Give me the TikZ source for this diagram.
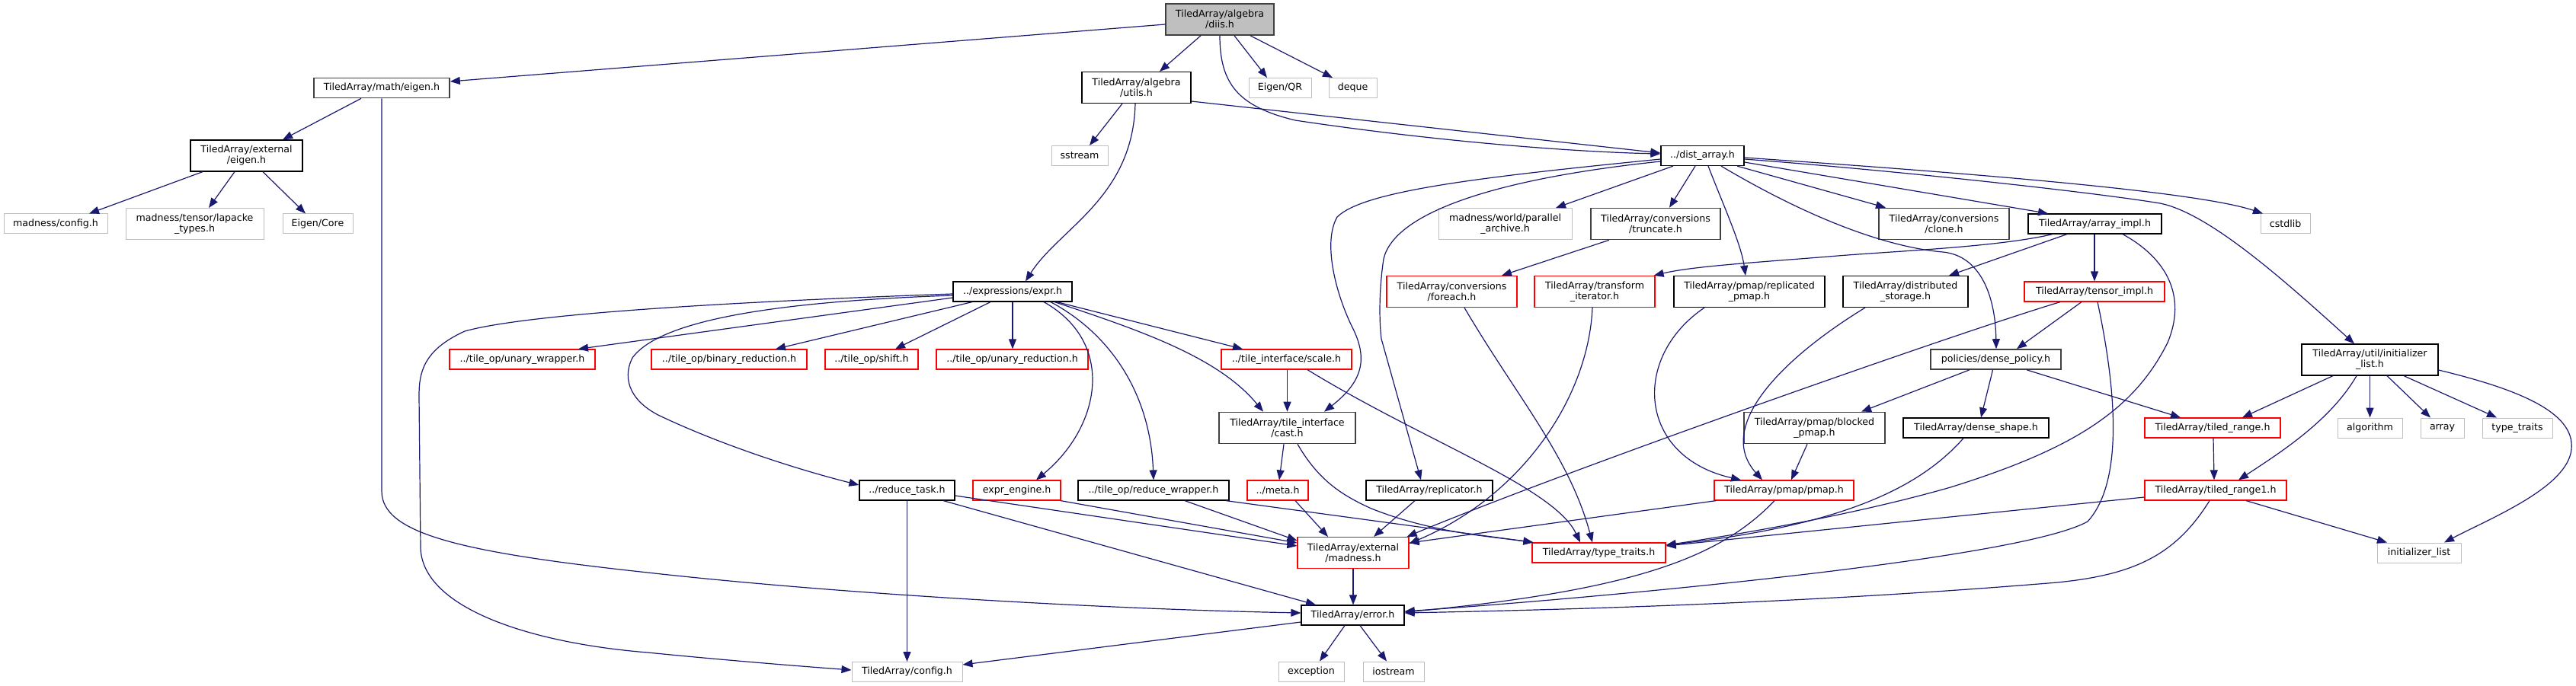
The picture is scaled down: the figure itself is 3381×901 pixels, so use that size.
\documentclass[tikz,border=0pt]{standalone}
\usepackage{fontspec}
\setmainfont{DejaVu Sans}
\usetikzlibrary{arrows.meta}
\definecolor{edgeblue}{HTML}{191970}
\definecolor{nodegray}{HTML}{404040}
\definecolor{extgray}{HTML}{BFBFBF}
\definecolor{truncred}{HTML}{FF0000}
\begin{document}
\begin{tikzpicture}[x=1pt,y=-1pt,
  nd/.style={draw, line width=1.2pt, fill=white, inner sep=0pt, align=center, font=\fontsize{12.6}{14}\selectfont, text=black},
  blk/.style={nd, draw=black},
  dk/.style={nd, draw=nodegray, line width=1.6pt},
  trnc/.style={nd, draw=truncred},
  ext/.style={nd, draw=extgray, line width=1pt},
  one/.style={minimum height=26pt},
  two/.style={minimum height=41pt},
  dep/.style={draw=edgeblue, line width=1.2pt, -{Triangle[length=13pt,width=10pt]}}
]
\useasboundingbox (0,0) rectangle (3381,901);
% nodes
\node[dk, two, minimum width=142pt, fill=extgray] (diis) at (1601,25.5) {TiledArray/algebra\\/diis.h};
\node[dk, one, minimum width=178pt] (mathEigen) at (501,115.5) {TiledArray/math/eigen.h};
\node[blk, two, minimum width=143pt] (utils) at (1491.5,115) {TiledArray/algebra\\/utils.h};
\node[ext, one, minimum width=82pt] (eigenQR) at (1680,115.5) {Eigen/QR};
\node[ext, one, minimum width=63pt] (deque) at (1775.5,115.5) {deque};
\node[blk, two, minimum width=147pt] (extEigen) at (323.5,204.5) {TiledArray/external\\/eigen.h};
\node[ext, one, minimum width=74pt] (sstream) at (1417,204.5) {sstream};
\node[blk, one, minimum width=109pt] (distArray) at (2234.5,204.5) {../dist\_array.h};
\node[ext, one, minimum width=136pt] (madConfig) at (73,294) {madness/config.h};
\node[ext, two, minimum width=181pt] (lapacke) at (255.5,294) {madness/tensor/lapacke\\\_types.h};
\node[ext, one, minimum width=92pt] (eigenCore) at (417,294) {Eigen/Core};
\node[ext, two, minimum width=175pt] (parArchive) at (1975.5,294) {madness/world/parallel\\\_archive.h};
\node[dk, two, minimum width=170pt] (truncate) at (2173,294) {TiledArray/conversions\\/truncate.h};
\node[dk, two, minimum width=171pt] (clone) at (2551.5,294) {TiledArray/conversions\\/clone.h};
\node[blk, one, minimum width=175pt] (arrayImpl) at (2749.5,294) {TiledArray/array\_impl.h};
\node[ext, one, minimum width=65pt] (cstdlib) at (2999.5,294) {cstdlib};
\node[blk, one, minimum width=156pt] (expr) at (1329,383) {../expressions/expr.h};
\node[trnc, two, minimum width=171pt] (foreach) at (1905.5,383) {TiledArray/conversions\\/foreach.h};
\node[trnc, two, minimum width=158pt] (transIter) at (2093,383) {TiledArray/transform\\\_iterator.h};
\node[blk, two, minimum width=198pt] (replPmap) at (2296,383) {TiledArray/pmap/replicated\\\_pmap.h};
\node[blk, two, minimum width=164pt] (distStorage) at (2501,383) {TiledArray/distributed\\\_storage.h};
\node[trnc, one, minimum width=184pt] (tensorImpl) at (2749,383) {TiledArray/tensor\_impl.h};
\node[trnc, one, minimum width=191pt] (unaryWrapper) at (685.5,472) {../tile\_op/unary\_wrapper.h};
\node[trnc, one, minimum width=204pt] (binRed) at (957,472) {../tile\_op/binary\_reduction.h};
\node[trnc, one, minimum width=122pt] (shift) at (1144,472) {../tile\_op/shift.h};
\node[trnc, one, minimum width=199pt] (unRed) at (1328.5,472) {../tile\_op/unary\_reduction.h};
\node[trnc, one, minimum width=171pt] (scale) at (1688.5,472) {../tile\_interface/scale.h};
\node[dk, one, minimum width=171pt] (densePolicy) at (2619.5,472) {policies/dense\_policy.h};
\node[blk, two, minimum width=179pt] (utilInit) at (3110.5,472.5) {TiledArray/util/initializer\\\_list.h};
\node[dk, two, minimum width=179pt] (cast) at (1689.5,562) {TiledArray/tile\_interface\\/cast.h};
\node[dk, two, minimum width=185pt] (blockedPmap) at (2381.5,562) {TiledArray/pmap/blocked\\\_pmap.h};
\node[blk, one, minimum width=191pt] (denseShape) at (2593.5,562) {TiledArray/dense\_shape.h};
\node[trnc, one, minimum width=178pt] (tiledRange) at (2904,562) {TiledArray/tiled\_range.h};
\node[ext, one, minimum width=85pt] (algorithm) at (3110.5,562) {algorithm};
\node[ext, one, minimum width=57pt] (array) at (3205.5,562) {array};
\node[ext, one, minimum width=92pt] (typeTraitsStd) at (3304,562) {type\_traits};
\node[blk, one, minimum width=125pt] (reduceTask) at (1190.5,644) {../reduce\_task.h};
\node[trnc, one, minimum width=115pt] (exprEngine) at (1334.5,644) {expr\_engine.h};
\node[blk, one, minimum width=198pt] (reduceWrapper) at (1514,644) {../tile\_op/reduce\_wrapper.h};
\node[trnc, one, minimum width=80pt] (meta) at (1677,644) {../meta.h};
\node[blk, one, minimum width=166pt] (replicator) at (1876,644) {TiledArray/replicator.h};
\node[trnc, one, minimum width=183pt] (pmap) at (2341.5,644) {TiledArray/pmap/pmap.h};
\node[trnc, one, minimum width=186pt] (tiledRange1) at (2908,644) {TiledArray/tiled\_range1.h};
\node[trnc, two, minimum width=146pt] (madness) at (1776,726) {TiledArray/external\\/madness.h};
\node[trnc, one, minimum width=175pt] (typeTraits) at (2098.5,726) {TiledArray/type\_traits.h};
\node[ext, one, minimum width=110pt] (initList) at (3175,726) {initializer\_list};
\node[blk, one, minimum width=135pt] (error) at (1775.5,808) {TiledArray/error.h};
\node[ext, one, minimum width=86pt] (exception) at (1721,882) {exception};
\node[ext, one, minimum width=80pt] (iostream) at (1829,882) {iostream};
\node[ext, one, minimum width=145pt] (config) at (1190.5,882.5) {TiledArray/config.h};
% edges from diis
\draw[dep] ([yshift=-6.5pt]diis.west) -- ([yshift=8.5pt]mathEigen.east);
\draw[dep] ([xshift=-25pt]diis.south) -- ([xshift=30.5pt]utils.north);
\draw[dep] ([xshift=19pt]diis.south) -- ([xshift=-17pt]eigenQR.north);
\draw[dep] ([xshift=40pt]diis.south) -- ([xshift=-26.5pt]deque.north);
\draw[dep] (diis.south) .. controls (1601,110) and (1625,140) .. (1700,158) .. controls (1900,188) and (2080,200) .. ([yshift=2.5pt]distArray.west);
% utils
\draw[dep] ([yshift=-18pt]utils.east) -- ([yshift=3.5pt]distArray.west);
\draw[dep] ([xshift=-18.5pt]utils.south) -- ([xshift=13pt]sstream.north);
\draw[dep] ([xshift=-1.5pt]utils.south) .. controls (1487,260) and (1390,300) .. ([xshift=17pt]expr.north);
% math eigen
\draw[dep] ([xshift=-27pt]mathEigen.south) -- ([xshift=47.5pt]extEigen.north);
\draw[dep] (mathEigen.south) -- (501,645) .. controls (501,700) and (600,725) .. (850,752) .. controls (1100,780) and (1450,800) .. ([yshift=3pt]error.west);
% external eigen
\draw[dep] ([xshift=-57.5pt]extEigen.south) -- ([xshift=44pt]madConfig.north);
\draw[dep] ([xshift=-15.5pt]extEigen.south) -- ([xshift=18.5pt]lapacke.north);
\draw[dep] ([xshift=21.5pt]extEigen.south) -- ([xshift=-16pt]eigenCore.north);
% dist_array
\draw[dep] ([xshift=-38.5pt]distArray.south) -- ([xshift=66.5pt]parArchive.north);
\draw[dep] ([xshift=-9.5pt]distArray.south) -- ([xshift=18pt]truncate.north);
\draw[dep] ([xshift=7.5pt]distArray.south) .. controls (2262,270) and (2285,320) .. ([xshift=-5pt]replPmap.north);
\draw[dep] ([xshift=45.5pt]distArray.south) -- ([xshift=-76.5pt]clone.north);
\draw[dep] ([yshift=-8.5pt]distArray.east) -- ([xshift=-61.5pt]arrayImpl.north);
\draw[dep] ([yshift=-2.5pt]distArray.east) .. controls (2550,225) and (2880,250) .. ([xshift=-29.5pt]cstdlib.north);
\draw[dep] ([yshift=-4.5pt]distArray.east) .. controls (2500,225) and (2750,253) .. (2835,267) .. controls (2900,280) and (3000,370) .. ([xshift=-20.5pt]utilInit.north);
\draw[dep] ([xshift=24.5pt]distArray.south) .. controls (2380,290) and (2480,325) .. (2550,331) .. controls (2600,336) and (2619,390) .. ([xshift=0.5pt]densePolicy.north);
\draw[dep] ([yshift=-4.5pt]distArray.west) .. controls (1950,232) and (1790,250) .. (1755,285) .. controls (1735,320) and (1755,390) .. (1775,430) .. controls (1795,470) and (1790,500) .. ([xshift=48.5pt]cast.north);
\draw[dep] ([yshift=-7.5pt]distArray.west) .. controls (1960,235) and (1830,280) .. (1816,340) .. controls (1810,380) and (1810,420) .. (1813,445) -- ([xshift=-11pt]replicator.north);
% array_impl
\draw[dep] ([xshift=-55.5pt]arrayImpl.south) .. controls (2620,325) and (2480,330) .. (2400,337) .. controls (2300,345) and (2220,350) .. ([xshift=-2pt]transIter.north east);
\draw[dep] ([xshift=-36.5pt]arrayImpl.south) -- ([xshift=57pt]distStorage.north);
\draw[dep] ([xshift=-0.5pt]arrayImpl.south) -- (tensorImpl.north);
\draw[dep] ([xshift=36.5pt]arrayImpl.south) .. controls (2845,340) and (2870,390) .. (2845,450) .. controls (2800,540) and (2720,590) .. (2560,640) .. controls (2420,680) and (2260,705) .. ([yshift=10pt]typeTraits.east);
% conversions, iterators, storage
\draw[dep] ([xshift=-61pt]truncate.south) -- ([xshift=65.5pt]foreach.north);
\draw[dep] ([xshift=16.5pt]foreach.south) .. controls (1990,520) and (2060,600) .. ([xshift=-8.5pt]typeTraits.north);
\draw[dep] ([xshift=-3pt]transIter.south) .. controls (2085,520) and (2000,650) .. ([yshift=12pt]madness.east);
\draw[dep] ([xshift=-59pt]replPmap.south) .. controls (2140,470) and (2150,600) .. ([xshift=-56.5pt]pmap.north);
\draw[dep] ([xshift=-53pt]distStorage.south) .. controls (2340,470) and (2250,560) .. ([xshift=-28.5pt]pmap.north);
% tensor_impl
\draw[dep] ([xshift=-17pt]tensorImpl.south) -- ([xshift=27.5pt]densePolicy.north);
\draw[dep] ([xshift=-45pt]tensorImpl.south) .. controls (2560,440) and (2050,620) .. ([xshift=-3pt]madness.north east);
\draw[dep] ([xshift=4pt]tensorImpl.south) .. controls (2775,500) and (2790,630) .. (2740,685) .. controls (2650,735) and (2100,785) .. ([yshift=5pt]error.east);
% dense_policy
\draw[dep] ([xshift=-34.5pt]densePolicy.south) -- ([xshift=61.5pt]blockedPmap.north);
\draw[dep] ([xshift=-4pt]densePolicy.south) -- ([xshift=6.5pt]denseShape.north);
\draw[dep] ([xshift=40.5pt]densePolicy.south) -- ([xshift=-42pt]tiledRange.north);
% pmaps
\draw[dep] ([xshift=-9.5pt]blockedPmap.south) -- ([xshift=9.5pt]pmap.north);
\draw[dep] ([xshift=3pt]pmap.south west) -- ([yshift=13pt]madness.east);
\draw[dep] ([xshift=-12.5pt]pmap.south) .. controls (2260,730) and (2150,775) .. ([yshift=4pt]error.east);
% dense_shape, tiled ranges
\draw[dep] ([xshift=-16.5pt]denseShape.south) .. controls (2520,640) and (2420,690) .. ([yshift=10pt]typeTraits.east);
\draw[dep] ([xshift=1pt]tiledRange.south) -- ([xshift=-2pt]tiledRange1.north);
\draw[dep] ([yshift=-9pt]tiledRange1.west) -- ([yshift=9pt]typeTraits.east);
\draw[dep] ([xshift=-8pt]tiledRange1.south) .. controls (2855,730) and (2800,755) .. (2700,765) .. controls (2400,790) and (2100,800) .. ([yshift=3pt]error.east);
\draw[dep] ([xshift=40pt]tiledRange1.south) -- ([xshift=-42pt]initList.north);
% util/initializer_list
\draw[dep] ([xshift=-48.5pt]utilInit.south) -- ([xshift=39pt]tiledRange.north);
\draw[dep] ([xshift=-17.5pt]utilInit.south) .. controls (3060,550) and (3000,590) .. ([xshift=30pt]tiledRange1.north);
\draw[dep] (utilInit.south) -- (algorithm.north);
\draw[dep] ([xshift=22.5pt]utilInit.south) -- ([xshift=-15.5pt]array.north);
\draw[dep] ([xshift=44.5pt]utilInit.south) -- ([xshift=-27pt]typeTraitsStd.north);
\draw[dep] ([yshift=-13.5pt]utilInit.east) .. controls (3300,510) and (3380,540) .. (3375,590) .. controls (3370,640) and (3270,680) .. ([xshift=33pt]initList.north);
% expr
\draw[dep] ([yshift=-8pt]expr.west) -- ([xshift=73.5pt]unaryWrapper.north);
\draw[dep] ([yshift=-5pt]expr.west) .. controls (1050,395) and (870,415) .. (830,470) .. controls (815,500) and (830,530) .. (870,548) .. controls (960,590) and (1060,620) .. ([yshift=7pt]reduceTask.west);
\draw[dep] ([yshift=-3pt]expr.west) .. controls (1000,395) and (700,410) .. (610,435) .. controls (555,460) and (550,490) .. (550,520) -- (552,720) .. controls (555,800) and (700,845) .. (850,857) .. controls (950,867) and (1050,875) .. ([yshift=2.5pt]config.west);
\draw[dep] ([xshift=-53pt]expr.south) -- ([xshift=61pt]binRed.north);
\draw[dep] ([xshift=-29pt]expr.south) -- ([xshift=31pt]shift.north);
\draw[dep] (expr.south) -- ([xshift=0.5pt]unRed.north);
\draw[dep] ([xshift=41pt]expr.south) .. controls (1465,450) and (1445,560) .. ([xshift=25.5pt]exprEngine.north);
\draw[dep] ([xshift=50pt]expr.south) .. controls (1460,440) and (1510,520) .. (reduceWrapper.north);
\draw[dep] ([xshift=55pt]expr.south) .. controls (1500,435) and (1600,470) .. ([xshift=-31.5pt]cast.north);
\draw[dep] ([xshift=58pt]expr.south) -- ([xshift=-57.5pt]scale.north);
% tile interface
\draw[dep] ([xshift=1pt]scale.south) -- (cast.north);
\draw[dep] ([xshift=27.5pt]scale.south) .. controls (1870,580) and (2040,640) .. ([xshift=-24.5pt]typeTraits.north);
\draw[dep] ([xshift=-4.5pt]cast.south) -- ([xshift=2pt]meta.north);
\draw[dep] ([xshift=13.5pt]cast.south) .. controls (1730,630) and (1760,650) .. (1800,668) .. controls (1880,700) and (1960,705) .. ([xshift=2pt]typeTraits.north west);
\draw[dep] ([xshift=23pt]meta.south) -- ([xshift=-33pt]madness.north);
% reduce task etc
\draw[dep] ([yshift=-7pt]reduceTask.east) -- ([yshift=9pt]madness.west);
\draw[dep] ([xshift=47.5pt]reduceTask.south) -- ([xshift=-48.5pt]error.north);
\draw[dep] (reduceTask.south) -- (config.north);
\draw[dep] ([xshift=57.5pt]exprEngine.south) -- ([yshift=13pt]madness.west);
\draw[dep] ([xshift=41pt]reduceWrapper.south) -- ([yshift=16pt]madness.west);
\draw[dep] ([xshift=95pt]reduceWrapper.south) -- ([xshift=2pt]typeTraits.north west);
\draw[dep] ([xshift=-19pt]replicator.south) -- ([xshift=27pt]madness.north);
% madness, error
\draw[dep] (madness.south) -- ([xshift=0.5pt]error.north);
\draw[dep] ([xshift=-10.5pt]error.south) -- ([xshift=11pt]exception.north);
\draw[dep] ([xshift=9.5pt]error.south) -- ([xshift=-9pt]iostream.north);
\draw[dep] ([yshift=-9pt]error.west) -- ([yshift=9.5pt]config.east);
\end{tikzpicture}
\end{document}
